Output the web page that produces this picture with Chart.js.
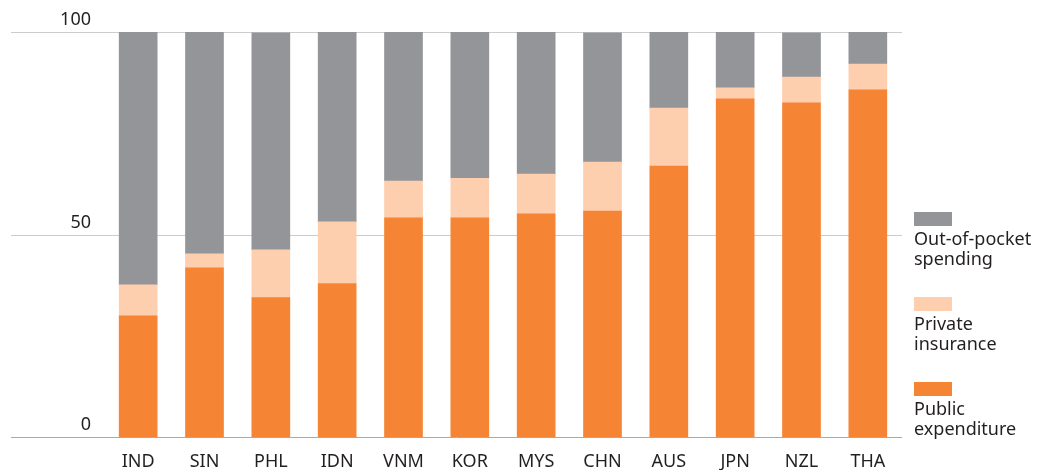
<!DOCTYPE html>
<html>
<head>
<meta charset="utf-8">
<script src="https://cdn.jsdelivr.net/npm/chart.js@4/dist/chart.umd.min.js"></script>
<style>
  html, body { margin: 0; padding: 0; background: #fff; }
  #wrap { position: relative; width: 1048px; height: 470px; }
  #legend { position: absolute; left: 914px; top: 212px; font-family: "Noto Sans", sans-serif; font-size: 18px; line-height: 20px; color: #231f20; }
  .item { height: 85px; }
  .box { width: 38px; height: 14px; margin-bottom: 2px; }
</style>
</head>
<body>
<div id="wrap">
  <canvas id="c"></canvas>
  <div id="legend"></div>
</div>
<script>
const categories = ["IND", "SIN", "PHL", "IDN", "VNM", "KOR", "MYS", "CHN", "AUS", "JPN", "NZL", "THA"];
const publicExpenditure = [29.9, 41.8, 34.4, 37.9, 54.1, 54.1, 55.1, 55.8, 66.9, 83.5, 82.5, 85.7];
const privateInsurance  = [7.7, 3.4, 11.8, 15.2, 9.1, 9.8, 9.8, 12.1, 14.3, 2.7, 6.4, 6.4];
const outOfPocket       = [62.4, 54.8, 53.6, 46.9, 36.8, 36.1, 35.1, 31.9, 18.8, 13.8, 10.9, 7.9];
const yTicks = [0, 50, 100];
const seriesLabels = ["Public<br>expenditure", "Private<br>insurance", "Out-of-pocket<br>spending"];
const seriesColors = ["#f58434", "#fdcfae", "#949599"];

const FONT = '"Noto Sans", sans-serif';

const gridPlugin = {
  id: 'customGrid',
  beforeDatasetsDraw(chart) {
    const ctx = chart.ctx, y = chart.scales.y, area = chart.chartArea;
    ctx.save();
    yTicks.forEach(v => {
      if (v === 0) return;
      const py = Math.round(y.getPixelForValue(v)) + 0.5;
      ctx.strokeStyle = '#cccccc';
      ctx.lineWidth = 1;
      ctx.beginPath(); ctx.moveTo(11, py); ctx.lineTo(area.right + 1, py); ctx.stroke();
    });
    ctx.restore();
  },
  afterDatasetsDraw(chart) {
    const ctx = chart.ctx, y = chart.scales.y, area = chart.chartArea;
    ctx.save();
    const py0 = Math.round(y.getPixelForValue(0)) + 0.5;
    ctx.strokeStyle = '#a7a9ac';
    ctx.lineWidth = 1;
    ctx.beginPath(); ctx.moveTo(11, py0); ctx.lineTo(area.right + 1, py0); ctx.stroke();
    ctx.fillStyle = '#231f20';
    ctx.font = '18px ' + FONT;
    ctx.textAlign = 'right';
    ctx.textBaseline = 'alphabetic';
    yTicks.forEach(v => {
      const py = y.getPixelForValue(v);
      ctx.fillText(String(v), 91, py - 7);
    });
    ctx.restore();
  }
};

new Chart(document.getElementById('c'), {
  type: 'bar',
  data: {
    labels: categories,
    datasets: [
      { label: 'Public expenditure', data: publicExpenditure, backgroundColor: seriesColors[0] },
      { label: 'Private insurance', data: privateInsurance, backgroundColor: seriesColors[1] },
      { label: 'Out-of-pocket spending', data: outOfPocket, backgroundColor: seriesColors[2] }
    ]
  },
  options: {
    responsive: true,
    maintainAspectRatio: false,
    animation: false,
    layout: { padding: { left: 105, right: 147, top: 32, bottom: 0 } },
    datasets: { bar: { barThickness: 38, borderWidth: 0 } },
    plugins: { legend: { display: false }, tooltip: { enabled: false } },
    scales: {
      x: {
        stacked: true,
        grid: { display: false },
        border: { display: false },
        ticks: { color: '#231f20', font: { family: FONT, size: 18 }, padding: 6, maxRotation: 0 },
        afterFit(scale) { scale.height = 33; }
      },
      y: {
        stacked: true,
        display: false,
        min: 0, max: 100
      }
    }
  },
  plugins: [gridPlugin]
});

const legend = document.getElementById('legend');
[2, 1, 0].forEach(i => {
  const item = document.createElement('div');
  item.className = 'item';
  const box = document.createElement('div');
  box.className = 'box';
  box.style.background = seriesColors[i];
  const txt = document.createElement('div');
  txt.innerHTML = seriesLabels[i];
  item.appendChild(box); item.appendChild(txt);
  legend.appendChild(item);
});
</script>
</body>
</html>
